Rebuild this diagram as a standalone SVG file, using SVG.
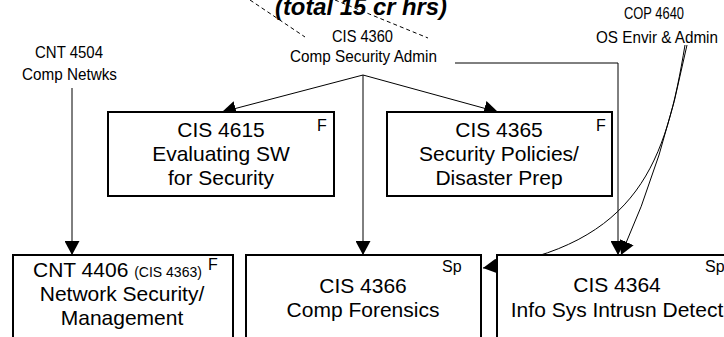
<svg xmlns="http://www.w3.org/2000/svg" width="724" height="337" viewBox="0 0 724 337">
<style>
  text { font-family: "Liberation Sans", Arial, sans-serif; fill: #000; }
  .lbl { font-size: 17px; }
  .box { fill: #fff; stroke: #000; stroke-width: 2; }
  .t { font-size: 21px; text-anchor: middle; }
  .tag { font-size: 16px; }
  .small { font-size: 14px; }
  .title { font-size: 23px; font-weight: bold; font-style: italic; }
  .conn { fill: none; stroke: #000; stroke-width: 1; }
  .dash { fill: none; stroke: #000; stroke-width: 1; stroke-dasharray: 4 3; }
</style>
<defs>
  <marker id="arr" markerUnits="userSpaceOnUse" markerWidth="15" markerHeight="15" refX="14" refY="7.5" orient="auto">
    <path d="M0,0 L14,7.5 L0,15 z" fill="#000"/>
  </marker>
</defs>

<g id="title">
  <line class="dash" x1="250" y1="0" x2="305" y2="37"/>
  <line class="dash" x1="335" y1="0" x2="428" y2="38"/>
  <text class="title" x="275" y="15" textLength="172" lengthAdjust="spacingAndGlyphs">(total 15 cr hrs)</text>
</g>

<g id="connectors">
  <polyline class="conn" points="363,75 222,112" marker-end="url(#arr)"/>
  <polyline class="conn" points="363,75 498,112" marker-end="url(#arr)"/>
  <line class="conn" x1="363" y1="75" x2="363" y2="255" marker-end="url(#arr)"/>
  <polyline class="conn" points="455,63 618,63 618,255" marker-end="url(#arr)"/>
  <line class="conn" x1="72" y1="88" x2="72" y2="255" marker-end="url(#arr)"/>
  <path class="conn" d="M687,45 Q664,160 621,255" marker-end="url(#arr)"/>
  <path class="conn" d="M685,45 C666,160 640,245 483,268" marker-end="url(#arr)"/>
</g>

<g id="cnt4504">
  <text class="lbl" x="35" y="58" textLength="68" lengthAdjust="spacingAndGlyphs">CNT 4504</text>
  <text class="lbl" x="22" y="80" textLength="95" lengthAdjust="spacingAndGlyphs">Comp Netwks</text>
</g>

<g id="cis4360">
  <text class="lbl" x="332" y="42" textLength="61" lengthAdjust="spacingAndGlyphs">CIS 4360</text>
  <text class="lbl" x="290" y="62" textLength="147" lengthAdjust="spacingAndGlyphs">Comp Security Admin</text>
</g>

<g id="cop4640">
  <text class="lbl" x="624" y="19" textLength="60" lengthAdjust="spacingAndGlyphs">COP 4640</text>
  <text class="lbl" x="596" y="43" textLength="122" lengthAdjust="spacingAndGlyphs">OS Envir &amp; Admin</text>
</g>

<g id="cis4615">
  <rect class="box" x="108" y="112" width="226" height="84"/>
  <text class="t" x="221" y="137">CIS 4615</text>
  <text class="t" x="221" y="161">Evaluating SW</text>
  <text class="t" x="221" y="185">for Security</text>
  <text class="tag" x="317" y="131">F</text>
</g>

<g id="cis4365">
  <rect class="box" x="387" y="112" width="225" height="84"/>
  <text class="t" x="499" y="137">CIS 4365</text>
  <text class="t" x="499" y="161">Security Policies/</text>
  <text class="t" x="499" y="185">Disaster Prep</text>
  <text class="tag" x="596" y="131">F</text>
</g>

<g id="cnt4406">
  <rect class="box" x="13" y="255" width="220" height="95"/>
  <text x="33" y="277"><tspan style="font-size:21px">CNT 4406 </tspan><tspan class="small">(CIS 4363)</tspan></text>
  <text class="tag" x="208" y="270">F</text>
  <text class="t" x="122" y="301">Network Security/</text>
  <text class="t" x="122" y="325">Management</text>
</g>

<g id="cis4366">
  <rect class="box" x="246" y="255" width="235" height="95"/>
  <text class="t" x="363" y="293">CIS 4366</text>
  <text class="t" x="363" y="317">Comp Forensics</text>
  <text class="tag" x="442" y="272">Sp</text>
</g>

<g id="cis4364">
  <rect class="box" x="497" y="255" width="245" height="95"/>
  <text class="t" x="617" y="292">CIS 4364</text>
  <text class="t" x="617" y="317">Info Sys Intrusn Detect</text>
  <text class="tag" x="705" y="272">Sp</text>
</g>
</svg>
